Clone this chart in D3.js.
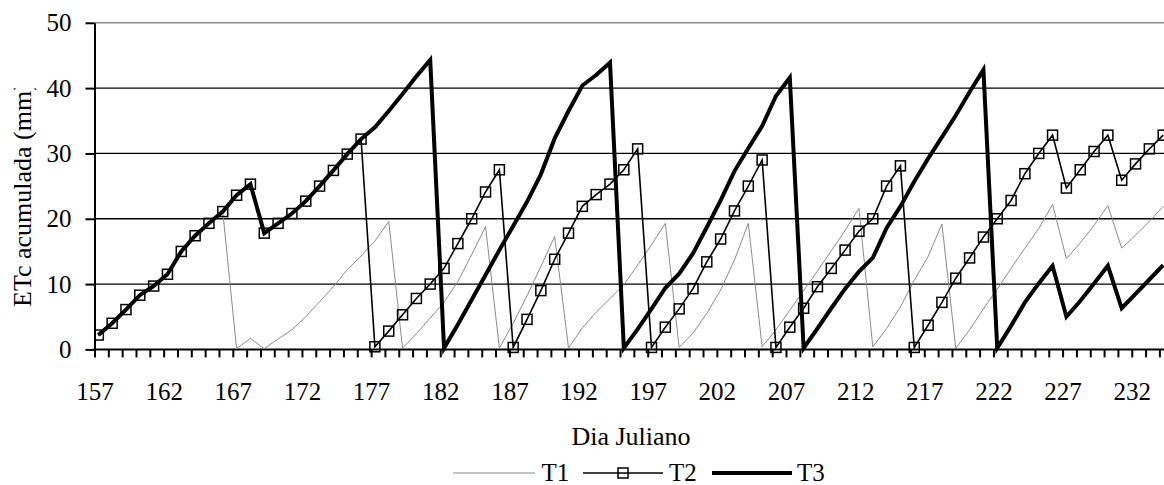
<!DOCTYPE html>
<html><head><meta charset="utf-8">
<script src="https://cdn.jsdelivr.net/npm/d3@7"></script>
<style>
body{margin:0;background:#fff}
svg text{font-family:"Liberation Serif","Times New Roman",serif;fill:#000}
</style>
</head><body>
<svg id="c" width="1164" height="485"></svg>
<script>
// ---- data ----
const days = [157,158,159,160,161,162,163,164,165,166,167,168,169,170,171,172,173,174,175,176,
  177,178,179,180,181,182,183,184,185,186,187,188,189,190,191,192,193,194,195,196,
  197,198,199,200,201,202,203,204,205,206,207,208,209,210,211,212,213,214,215,216,
  217,218,219,220,221,222,223,224,225,226,227,228,229,230,231,232,233,234];
const xTickLabels = [157,162,167,172,177,182,187,192,197,202,207,212,217,222,227,232];
const yTicks = [0,10,20,30,40,50];
const seriesNames = ["T1","T2","T3"];
const t1 = [2.2,4.0,6.1,8.3,9.7,11.5,15.0,17.4,19.3,21.1,
  0.1,1.7,0.1,1.6,3.0,5.0,7.3,9.6,12.2,14.3,
  16.6,19.6,0.2,2.4,4.8,7.2,10.4,14.5,18.8,0.2,
  4.0,8.2,12.7,17.3,0.2,3.3,5.7,7.8,9.9,12.9,
  16.0,19.3,0.3,2.5,5.5,9.1,13.7,19.3,0.4,3.0,
  6.0,9.0,12.0,15.1,18.2,21.6,0.4,3.2,6.5,10.6,
  14.2,19.2,0.2,3.0,6.2,9.2,12.4,15.5,18.5,22.2,
  13.9,16.3,19.0,22.0,15.5,17.5,19.6,21.9];
const t2 = [2.2,4.0,6.1,8.3,9.7,11.5,15.0,17.4,19.3,21.1,
  23.6,25.3,17.8,19.3,20.8,22.7,25.0,27.4,29.9,32.2,
  0.4,2.8,5.3,7.8,10.0,12.4,16.2,20.0,24.1,27.5,
  0.3,4.6,9.0,13.8,17.8,21.9,23.7,25.3,27.5,30.7,
  0.3,3.4,6.2,9.3,13.4,16.9,21.2,25.0,29.0,0.3,
  3.4,6.3,9.6,12.4,15.2,18.1,20.0,25.0,28.1,0.3,
  3.7,7.2,10.9,14.0,17.2,20.0,22.8,26.9,30.0,32.8,
  24.7,27.5,30.3,32.8,25.9,28.4,30.7,32.8];
const t3 = [2.2,4.0,6.1,8.3,9.7,11.5,15.0,17.4,19.3,21.1,
  23.6,25.3,17.8,19.3,20.8,22.7,25.0,27.4,29.9,32.2,
  34.0,36.5,39.1,41.8,44.3,0.2,3.8,7.6,11.4,15.2,
  18.9,22.6,26.8,32.3,36.5,40.4,42.0,43.9,0.2,3.1,
  6.2,9.4,11.6,14.7,18.7,22.8,27.3,30.8,34.2,38.8,
  41.6,0.2,3.2,6.3,9.3,11.9,14.0,18.6,21.9,25.7,
  29.2,32.5,35.8,39.4,42.8,0.2,3.6,7.2,10.1,12.8,
  5.0,7.4,10.1,12.8,6.3,8.5,10.7,12.9];

// ---- layout ----
const pLeft = 94.5, pRight = 1164, pTop = 22.8, pBottom = 349.4;
const svg = d3.select('#c');

const x = d3.scaleLinear().domain([157, 234]).range([98.3, 1163.2]);
const xAxisScale = d3.scaleLinear().domain([157, 234]).range([94.5, 1159.4]);
const y = d3.scaleLinear().domain([0, 50]).range([pBottom, pTop]);

// gridlines
svg.append('g').selectAll('line').data(yTicks.filter(v => v > 0)).join('line')
  .attr('x1', pLeft).attr('x2', pRight)
  .attr('y1', d => y(d)).attr('y2', d => y(d))
  .attr('stroke', d => d === 50 ? '#8c8c8c' : '#000')
  .attr('stroke-width', d => d === 50 ? 1.5 : 1.3);

// y axis
const ya = svg.append('g').attr('transform', `translate(${pLeft},0)`)
  .call(d3.axisLeft(y).tickValues(yTicks).tickSize(9).tickSizeOuter(0).tickPadding(14));
ya.select('.domain').attr('stroke', '#000').attr('stroke-width', 2);
ya.selectAll('.tick line').attr('stroke', '#000').attr('stroke-width', 2);
ya.selectAll('.tick text').attr('font-size', 25).style('font-family', '"Liberation Serif",serif');

// x axis
const labelSet = new Set(xTickLabels);
const xa = svg.append('g').attr('transform', `translate(0,${pBottom})`)
  .call(d3.axisBottom(xAxisScale).tickValues(days).tickSize(8).tickSizeOuter(0).tickPadding(25)
    .tickFormat(d => labelSet.has(d) ? String(d) : ''));
xa.select('.domain').remove();
xa.selectAll('.tick line').attr('stroke', '#000').attr('stroke-width', 2);
xa.selectAll('.tick text').attr('font-size', 25).style('font-family', '"Liberation Serif",serif');
svg.append('line').attr('x1', pLeft - 1).attr('x2', pRight).attr('y1', pBottom).attr('y2', pBottom)
  .attr('stroke', '#000').attr('stroke-width', 2);

// clip for plot
svg.append('clipPath').attr('id', 'pc').append('rect')
  .attr('x', pLeft).attr('y', 0).attr('width', pRight - pLeft).attr('height', pBottom + 10);
const plot = svg.append('g').attr('clip-path', 'url(#pc)');

const line = d3.line().x((d, i) => x(days[i])).y(d => y(d));

plot.append('path').datum(t1).attr('d', line)
  .attr('fill', 'none').attr('stroke', '#8a8a8a').attr('stroke-width', 1);
plot.append('path').datum(t2).attr('d', line)
  .attr('fill', 'none').attr('stroke', '#000').attr('stroke-width', 1.6);
plot.append('path').datum(t3).attr('d', line)
  .attr('fill', 'none').attr('stroke', '#000').attr('stroke-width', 4);
plot.append('g').selectAll('rect').data(t2).join('rect')
  .attr('x', (d, i) => x(days[i]) - 5).attr('y', d => y(d) - 5)
  .attr('width', 10).attr('height', 10)
  .attr('fill', 'none').attr('stroke', '#000').attr('stroke-width', 1.5);

// titles
svg.append('text').attr('x', 631).attr('y', 445).attr('text-anchor', 'middle')
  .attr('font-size', 26).text('Dia Juliano');
svg.append('clipPath').attr('id', 'tc').append('rect')
  .attr('x', 0).attr('y', 88).attr('width', 60).attr('height', 260);
svg.append('g').attr('clip-path', 'url(#tc)')
  .append('text').attr('transform', 'translate(31,307) rotate(-90)')
  .attr('text-anchor', 'start').attr('font-size', 26).text('ETc acumulada (mm)');

// legend
const lg = svg.append('g');
const ly = 473;
const legendItems = [
  {name: seriesNames[0], x1: 453, x2: 535, tx: 541.5, stroke: '#8a8a8a', w: 1, marker: false},
  {name: seriesNames[1], x1: 583, x2: 663, tx: 669, stroke: '#000', w: 1.6, marker: true},
  {name: seriesNames[2], x1: 712, x2: 792, tx: 797, stroke: '#000', w: 4, marker: false}
];
legendItems.forEach(it => {
  lg.append('line').attr('x1', it.x1).attr('x2', it.x2).attr('y1', ly).attr('y2', ly)
    .attr('stroke', it.stroke).attr('stroke-width', it.w);
  if (it.marker) {
    lg.append('rect').attr('x', (it.x1 + it.x2) / 2 - 5).attr('y', ly - 5)
      .attr('width', 10).attr('height', 10).attr('fill', 'none')
      .attr('stroke', '#000').attr('stroke-width', 1.5);
  }
  lg.append('text').attr('x', it.tx).attr('y', 481).attr('font-size', 25).text(it.name);
});
</script>
</body></html>
